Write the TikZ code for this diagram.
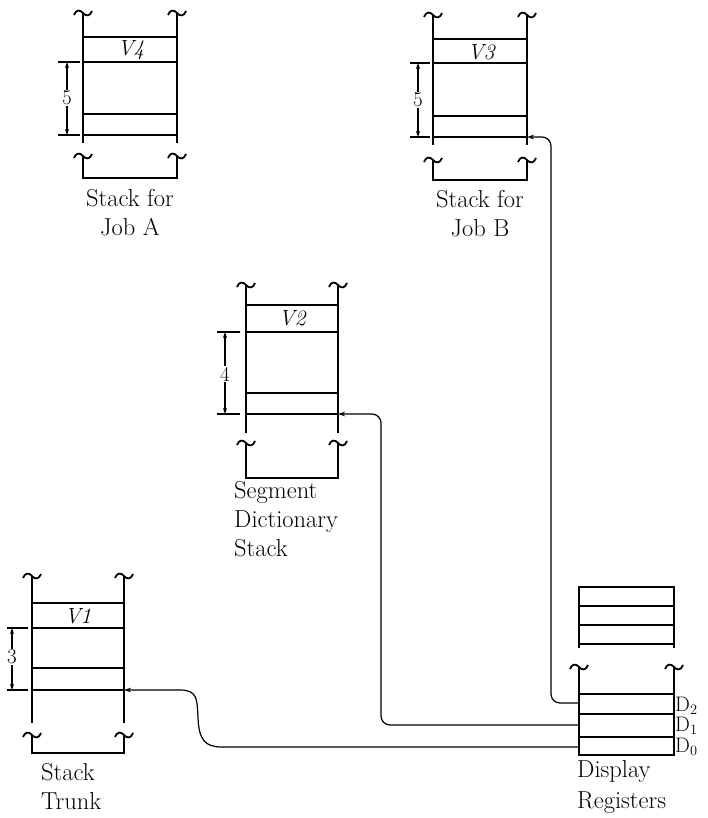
\documentclass[tikz,border=0pt]{standalone}
\usetikzlibrary{arrows.meta}
\begin{document}
\begin{tikzpicture}[x=1pt,y=-1pt,
  stk/.style={line width=1.8pt},
  conn/.style={line width=1.2pt, rounded corners=9pt},
  tip/.style={-{Stealth[length=7pt,width=4.5pt]}},
  dimline/.style={line width=1.1pt,{Stealth[length=6pt,width=4pt]}-{Stealth[length=6pt,width=4pt]}},
  ext/.style={line width=1.1pt},
  lbl/.style={font=\fontsize{24.5}{29}\selectfont, inner sep=0pt},
  vlbl/.style={font=\fontsize{22}{24}\selectfont\itshape, inner sep=0pt},
  num/.style={font=\fontsize{21}{24}\selectfont, fill=white, inner sep=1pt},
  dlbl/.style={font=\fontsize{21}{24}\selectfont, inner sep=0pt, anchor=base west},
  tld/.pic={\draw[line width=1.8pt] (-9,2) .. controls (-7,-3.5) and (-3,-3.5) .. (0,0) .. controls (3,3.5) and (7,3.5) .. (9,-2);}
]
\useasboundingbox (0,0) rectangle (708,818);

% ---------- Stack for Job A ----------
\draw[stk] (83,13) -- (83,143) (177,13) -- (177,143);
\foreach \y in {37,62,114,135} \draw[stk] (83,\y) -- (177,\y);
\pic at (83,13) {tld}; \pic at (177,13) {tld};
\pic at (83,156) {tld}; \pic at (177,156) {tld};
\draw[stk] (83,156) -- (83,178) -- (177,178) -- (177,156);
\node[vlbl] (v4) at (131,50) {V4};
\draw[ext] (58,62) -- (80,62) (58,135) -- (80,135);
\draw[dimline] (67,62) -- (67,135);
\node[num] (n5a) at (67,98) {5};
\node[lbl, align=center] (labA) at (130,213) {Stack for\\Job A};

% ---------- Stack for Job B ----------
\draw[stk] (433,15) -- (433,145) (527,15) -- (527,145);
\foreach \y in {39,63,116,137} \draw[stk] (433,\y) -- (527,\y);
\pic at (433,15) {tld}; \pic at (527,15) {tld};
\pic at (433,160) {tld}; \pic at (527,160) {tld};
\draw[stk] (433,160) -- (433,180) -- (527,180) -- (527,160);
\node[vlbl] (v3) at (481,52) {V3};
\draw[ext] (410,63) -- (430,63) (410,137) -- (430,137);
\draw[dimline] (418,63) -- (418,137);
\node[num] (n5b) at (418,100) {5};
\node[lbl, align=center] (labB) at (480,214) {Stack for\\Job B};
\coordinate (bArr) at (527,137);

% ---------- Segment Dictionary Stack ----------
\draw[stk] (246,285) -- (246,433) (338,285) -- (338,433);
\foreach \y in {305,332,393,414} \draw[stk] (246,\y) -- (338,\y);
\pic at (246,285) {tld}; \pic at (338,285) {tld};
\pic at (246,443) {tld}; \pic at (338,443) {tld};
\draw[stk] (246,443) -- (246,478) -- (338,478) -- (338,443);
\node[vlbl] (v2) at (292,318) {V2};
\draw[ext] (217,332) -- (240,332) (217,414) -- (240,414);
\draw[dimline] (225,332) -- (225,414);
\node[num] (n4) at (225,374) {4};
\node[lbl, align=left, anchor=north west] (labS) at (234,481) {Segment\\Dictionary\\Stack};
\coordinate (sArr) at (338,414);

% ---------- Stack Trunk ----------
\draw[stk] (32,576) -- (32,723) (124,576) -- (124,723);
\foreach \y in {603,628,668,690} \draw[stk] (32,\y) -- (124,\y);
\pic at (32,576) {tld}; \pic at (124,576) {tld};
\pic at (32,735) {tld}; \pic at (124,735) {tld};
\draw[stk] (32,735) -- (32,753) -- (124,753) -- (124,735);
\node[vlbl] (v1) at (78,616) {V1};
\draw[ext] (7,628) -- (28,628) (7,690) -- (28,690);
\draw[dimline] (12,628) -- (12,690);
\node[num] (n3) at (12,657) {3};
\node[lbl, align=left, anchor=north west] (labT) at (41,763) {Stack\\Trunk};
\coordinate (tArr) at (124,690);

% ---------- Display Registers ----------
\draw[stk] (579,648) -- (579,587) -- (674,587) -- (674,648);
\foreach \y in {606,625,644} \draw[stk] (579,\y) -- (674,\y);
\pic at (579,667) {tld}; \pic at (674,667) {tld};
\draw[stk] (579,667) -- (579,755) -- (674,755) -- (674,667);
\foreach \y in {694,714,737} \draw[stk] (579,\y) -- (674,\y);
\node[dlbl] (d2l) at (675,711) {D$_2$};
\node[dlbl] (d1l) at (675,731) {D$_1$};
\node[dlbl] (d0l) at (675,752) {D$_0$};
\node[lbl, align=left, anchor=north west] (labD) at (577,760) {Display\\[2pt]Registers};
\coordinate (d2) at (579,703);
\coordinate (d1) at (579,725);
\coordinate (d0) at (579,747);

% ---------- connectors ----------
\draw[conn, tip] (d2) -- ++(-28,0) |- (bArr);
\draw[conn, tip] (d1) -- ++(-198,0) |- (sArr);
\draw[line width=1.2pt, tip] (d0) -- (222,747) .. controls (205,747) and (199,740) .. (198,718)
   .. controls (197,700) and (198,690) .. (180,690) -- (tArr);
\end{tikzpicture}
\end{document}
